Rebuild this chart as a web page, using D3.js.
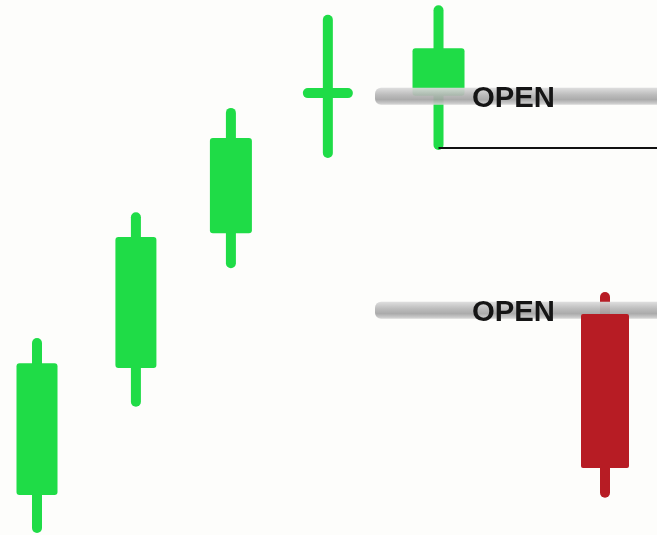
<!DOCTYPE html>
<html>
<head>
<meta charset="utf-8">
<script src="https://cdn.jsdelivr.net/npm/d3@7"></script>
<style>
  html, body { margin: 0; padding: 0; background: #fdfdfb; }
  svg { display: block; }
</style>
</head>
<body>
<svg id="chart"></svg>
<script>
// Chart size
const width = 657;
const height = 535;

// Candle data (slot, open, high, low, close)
const slots  = [1, 2.01, 2.98, 3.97, 5.1, 6.8];
const opens  = [7.5, 31.2, 56.4, 82.6, 82.1, 41.5];
const highs  = [35.9, 59.4, 78.9, 96.3, 98.1, 44.5];
const lows   = [1.3, 24.9, 50.8, 71.4, 72.9, 7.9];
const closes = [32.1, 55.7, 74.2, 82.6, 91.0, 12.7];

// Open levels marked with a label
const openLevels = [82.1, 42.1];
const openLabels = ["OPEN", "OPEN"];

const candles = slots.map((s, i) => ({
    slot: s, open: opens[i], high: highs[i], low: lows[i], close: closes[i]
}));

// Scales
const x = d3.scaleLinear().domain([1, 6.8]).range([37, 605]);
const y = d3.scaleLinear().domain([0, 100]).range([535, 0]);

const bodyW = [41, 41, 42, 50, 52, 48];
const green = "#1fdc47";
const red = "#b71c24";

const svg = d3.select("#chart")
    .attr("width", width)
    .attr("height", height);

svg.append("rect")
    .attr("width", width)
    .attr("height", height)
    .attr("fill", "#fdfdfb");

// Verlauf fuer die graue Linie
const defs = svg.append("defs");
const grad = defs.append("linearGradient")
    .attr("id", "barGrad")
    .attr("x1", 0).attr("y1", 0).attr("x2", 0).attr("y2", 1);
grad.append("stop").attr("offset", "0%").attr("stop-color", "#dcdcdc");
grad.append("stop").attr("offset", "40%").attr("stop-color", "#b8b8b8");
grad.append("stop").attr("offset", "70%").attr("stop-color", "#a4a4a4");
grad.append("stop").attr("offset", "100%").attr("stop-color", "#d4d4d4");

defs.append("filter")
    .attr("id", "soft")
    .append("feGaussianBlur")
    .attr("stdDeviation", 0.6);

const colorOf = d => d.close >= d.open ? green : red;

// Dochte
svg.append("g").selectAll("line")
    .data(candles)
    .join("line")
    .attr("x1", d => x(d.slot))
    .attr("x2", d => x(d.slot))
    .attr("y1", d => y(d.high))
    .attr("y2", d => y(d.low))
    .attr("stroke", colorOf)
    .attr("stroke-width", 10)
    .attr("stroke-linecap", "round");

// Koerper (Doji als Querstrich)
const bodies = svg.append("g");
candles.forEach((d, i) => {
    if (i === 5) return; // red body drawn over the open bar
    if (d.open === d.close) {
        bodies.append("line")
            .attr("x1", x(d.slot) - bodyW[i] / 2 + 5)
            .attr("x2", x(d.slot) + bodyW[i] / 2 - 5)
            .attr("y1", y(d.open))
            .attr("y2", y(d.open))
            .attr("stroke", green)
            .attr("stroke-width", 10)
            .attr("stroke-linecap", "round");
    } else {
        bodies.append("rect")
            .attr("x", x(d.slot) - bodyW[i] / 2)
            .attr("y", y(Math.max(d.open, d.close)))
            .attr("width", bodyW[i])
            .attr("height", Math.abs(y(d.open) - y(d.close)))
            .attr("rx", 3)
            .attr("fill", colorOf(d));
    }
});

// Schwarze Linie am Tief der fuenften Kerze
svg.append("line")
    .attr("x1", x(slots[4]))
    .attr("x2", width)
    .attr("y1", y(lows[4]) + 3)
    .attr("y2", y(lows[4]) + 3)
    .attr("stroke", "#111")
    .attr("stroke-width", 2);

// OPEN Balken
const bars = svg.append("g").attr("filter", "url(#soft)");
openLevels.forEach(lv => {
    bars.append("rect")
        .attr("x", 375)
        .attr("y", y(lv) - 8)
        .attr("width", width - 375 + 10)
        .attr("height", 17)
        .attr("rx", 6)
        .attr("fill", "url(#barGrad)")
        .attr("opacity", 0.93);
});

// Roter Koerper vor dem Balken
const last = candles[5];
svg.append("rect")
    .attr("x", x(last.slot) - bodyW[5] / 2)
    .attr("y", y(last.open) + 1)
    .attr("width", bodyW[5])
    .attr("height", y(last.close) - y(last.open))
    .attr("rx", 2)
    .attr("fill", red);

// Beschriftung
svg.append("g").selectAll("text")
    .data(openLevels)
    .join("text")
    .attr("x", 472)
    .attr("y", d => y(d) + 11)
    .attr("font-family", "Liberation Sans, Arial, sans-serif")
    .attr("font-weight", "bold")
    .attr("font-size", "29px")
    .attr("textLength", 83)
    .attr("lengthAdjust", "spacingAndGlyphs")
    .attr("fill", "#151515")
    .text((d, i) => openLabels[i]);
</script>
</body>
</html>
